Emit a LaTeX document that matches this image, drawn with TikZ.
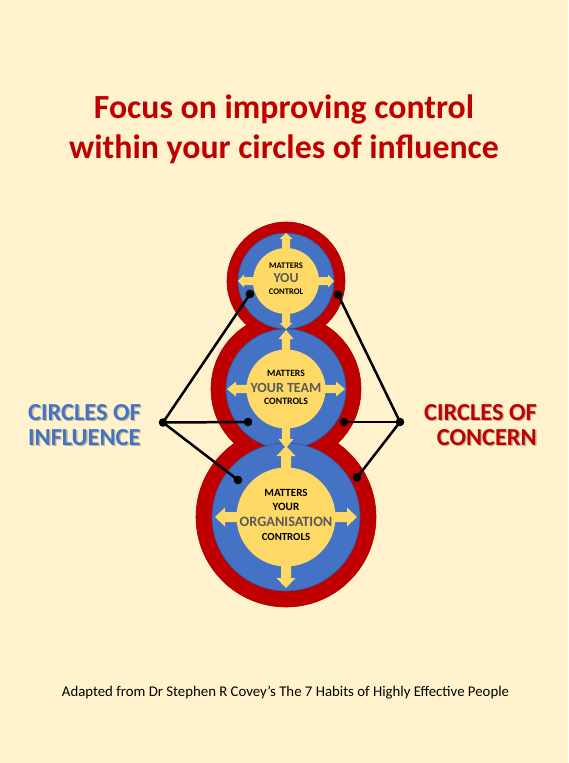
\documentclass[tikz,border=0pt]{standalone}
\usepackage{fontspec}
\setmainfont{Carlito}
\definecolor{bg}{HTML}{FFF2CC}
\definecolor{ringred}{HTML}{C00000}
\definecolor{ringredline}{HTML}{A00000}
\definecolor{ringblue}{HTML}{4472C4}
\definecolor{ringblueline}{HTML}{2F528F}
\definecolor{ringyellow}{HTML}{FFD966}
\definecolor{titlered}{HTML}{C00000}
\definecolor{midgray}{HTML}{595959}
\definecolor{lblblue}{HTML}{4472C4}
\newcommand{\blkarrow}[8]{%
  \begin{scope}[shift={(#1,#2)},rotate=#3]
    \fill[ringyellow] (#4,-#6) -- ({#5-#8},-#6) -- ({#5-#8},-#7) -- (#5,0) -- ({#5-#8},#7) -- ({#5-#8},#6) -- (#4,#6) -- cycle;
  \end{scope}}
\tikzset{
  redring/.style={fill=ringred,draw=ringredline,line width=0.6pt},
  bluering/.style={fill=ringblue,draw=ringblueline,line width=0.6pt},
  yellowcore/.style={fill=ringyellow},
  small/.style={font=\fontsize{#1}{#1}\selectfont\bfseries,text=black,inner sep=0pt},
  big/.style={font=\fontsize{#1}{#1}\selectfont\bfseries,text=midgray,inner sep=0pt},
  lbl/.style={font=\fontsize{24.4}{28}\selectfont\bfseries,inner sep=0pt},
  shadowlbl/.style={lbl,text=black,opacity=0.25},
  dot/.style={circle,fill=black,minimum size=8.6pt,inner sep=0pt},
  conn/.style={black,line width=2.5pt},
  titletext/.style={anchor=base,text=titlered,font=\fontsize{33.8}{40}\selectfont\bfseries,inner sep=0pt},
}
\begin{document}
\begin{tikzpicture}[x=1pt,y=-1pt]
\fill[bg] (0,0) rectangle (568,763);
\useasboundingbox (0,0) rectangle (568,763);
% title
\node[titletext] (t1) at (284,118) {Focus on improving control};
\node[titletext] (t2) at (284,158) {within your circles of influence};
% circles
\coordinate (c1) at (286,281);
\coordinate (c2) at (286,389);
\coordinate (c3) at (286,517);
\draw[redring] (c1) circle[radius=59];
\draw[redring] (c2) circle[radius=75];
\draw[redring] (c3) circle[radius=90];
\draw[bluering] (c1) circle[radius=48];
\draw[bluering] (c2) circle[radius=60];
\draw[bluering] (c3) circle[radius=74];
\fill[yellowcore] (c1) circle[radius=33];
\fill[yellowcore] (c2) circle[radius=39.5];
\fill[yellowcore] (c3) circle[radius=49.5];
% arrows
\foreach \a in {0,90,180,270}{
  \blkarrow{286}{281}{\a}{30}{48}{4}{6.5}{6}
  \blkarrow{286}{389}{\a}{36}{59}{4.2}{7.5}{9}
  \blkarrow{286}{517}{\a}{46}{71}{5}{9.5}{10}
}
% inner texts
\node[small=8.6] (m1) at (286,266) {MATTERS};
\node[big=13.8] (y1) at (286,278.5) {YOU};
\node[small=8.6] (k1) at (286,292) {CONTROL};
\node[small=9.6] (m2) at (286,373) {MATTERS};
\node[big=14] (y2) at (286,388) {YOUR TEAM};
\node[small=9.8] (k2) at (286,401.5) {CONTROLS};
\node[small=11] (m3) at (286,493) {MATTERS};
\node[small=11.2] (u3) at (286,507) {YOUR};
\node[big=14.3] (y3) at (286,522) {ORGANISATION};
\node[small=10.8] (k3) at (286,537) {CONTROLS};
% side labels
\node[shadowlbl,anchor=base west] (ls1) at (29.3,421.3) {CIRCLES OF};
\node[shadowlbl,anchor=base west] (ls2) at (29.3,446.3) {INFLUENCE};
\node[lbl,text=lblblue,anchor=base west] (l1) at (28,420) {CIRCLES OF};
\node[lbl,text=lblblue,anchor=base west] (l2) at (28,445) {INFLUENCE};
\node[shadowlbl,anchor=base east] (rs1) at (538.3,421.3) {CIRCLES OF};
\node[shadowlbl,anchor=base east] (rs2) at (538.3,446.3) {CONCERN};
\node[lbl,text=titlered,anchor=base east] (r1) at (537,420) {CIRCLES OF};
\node[lbl,text=titlered,anchor=base east] (r2) at (537,445) {CONCERN};
% connectors
\node[dot] (L) at (163,422.5) {};
\node[dot] (R) at (400,422) {};
\node[dot] (a1) at (250,294) {};
\node[dot] (a2) at (248,422) {};
\node[dot] (a3) at (238,480) {};
\node[dot] (b1) at (338,294.5) {};
\node[dot] (b2) at (344,422) {};
\node[dot] (b3) at (357,477.5) {};
\foreach \t in {a1,a2,a3}{\draw[conn] (L.center) -- (\t.center);}
\foreach \t in {b1,b2,b3}{\draw[conn] (R.center) -- (\t.center);}
% footer
\node[anchor=base,font=\fontsize{14.8}{17}\selectfont,inner sep=0pt] (foot) at (285.5,696) {Adapted from Dr Stephen R Covey’s The 7 Habits of Highly Effective People};
\end{tikzpicture}
\end{document}
